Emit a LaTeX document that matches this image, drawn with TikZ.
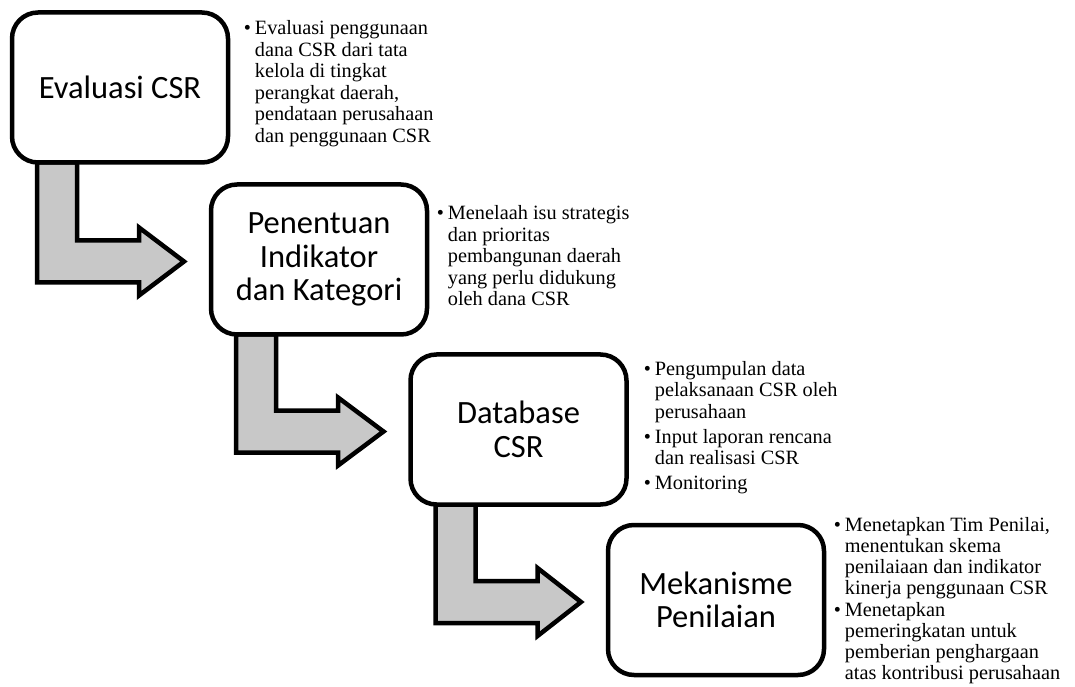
\documentclass[tikz,border=0pt]{standalone}
\usepackage{fontspec}
\setmainfont{Liberation Serif}
\newfontfamily\boxfont{Carlito}
\usetikzlibrary{calc}
\definecolor{arrowfill}{RGB}{200,200,200}
\pgfdeclarelayer{arrowlayer}
\pgfsetlayers{arrowlayer,main}
\begin{document}
\begin{tikzpicture}[x=1pt,y=1pt,
  stagebox/.style={draw=black, line width=4.5pt, rounded corners=26pt, fill=white,
    minimum width=216pt, minimum height=150pt, outer sep=0pt, inner sep=0pt,
    align=center, font=\boxfont\fontsize{32.5}{33.5}\selectfont},
  flowarrow/.style={draw=black, line width=4.5pt, fill=arrowfill, line join=miter},
  notes/.style={anchor=base west, inner sep=0pt, outer sep=0pt,
    font=\fontsize{20.3}{21.5}\selectfont}
]
\useasboundingbox (0,0) rectangle (1075,686);

% stage boxes
\node[stagebox] (b1) at (120,598.5) {Evaluasi CSR};
\node[stagebox] (b2) at (319,426.5) {Penentuan\\Indikator\\dan Kategori};
\node[stagebox] (b3) at (518.5,256.5) {Database\\CSR};
\node[stagebox] (b4) at (716,86) {Mekanisme\\Penilaian};

% bent arrows
\begin{pgfonlayer}{arrowlayer}
\foreach \a/\b in {b1/b2, b2/b3, b3/b4}{
  \draw[flowarrow] let \p1=(\a.south west), \p2=(\b.west) in
    (\x1+25pt,\y1) -- (\x1+25pt,\y2-23pt) -- (\x1+127pt,\y2-23pt)
    -- (\x1+127pt,\y2-36pt) -- (\x2-27pt,\y2-2pt) -- (\x1+127pt,\y2+32pt)
    -- (\x1+127pt,\y2+19pt) -- (\x1+65pt,\y2+19pt) -- (\x1+65pt,\y1) -- cycle;
}
\end{pgfonlayer}

% notes
\node[notes] (n1) at (243.8,651) {\begin{tabular}[t]{@{}l@{\hspace{4pt}}l@{}}
\textbullet & Evaluasi penggunaan\\
 & dana CSR dari tata\\
 & kelola di tingkat\\
 & perangkat daerah,\\
 & pendataan perusahaan\\
 & dan penggunaan CSR
\end{tabular}};

\node[notes] (n2) at (436.8,466) {\begin{tabular}[t]{@{}l@{\hspace{4pt}}l@{}}
\textbullet & Menelaah isu strategis\\
 & dan prioritas\\
 & pembangunan daerah\\
 & yang perlu didukung\\
 & oleh dana CSR
\end{tabular}};

\node[notes] (n3) at (643.8,311) {\begin{tabular}[t]{@{}l@{\hspace{4pt}}l@{}}
\textbullet & Pengumpulan data\\
 & pelaksanaan CSR oleh\\
 & perusahaan\\[3.5pt]
\textbullet & Input laporan rencana\\
 & dan realisasi CSR\\[3.5pt]
\textbullet & Monitoring
\end{tabular}};

\node[notes, font=\fontsize{20.3}{21}\selectfont] (n4) at (833.8,155) {\begin{tabular}[t]{@{}l@{\hspace{4pt}}l@{}}
\textbullet & Menetapkan Tim Penilai,\\
 & menentukan skema\\
 & penilaiaan dan indikator\\
 & kinerja penggunaan CSR\\[1pt]
\textbullet & Menetapkan\\
 & pemeringkatan untuk\\
 & pemberian penghargaan\\
 & atas kontribusi perusahaan
\end{tabular}};
\end{tikzpicture}
\end{document}
